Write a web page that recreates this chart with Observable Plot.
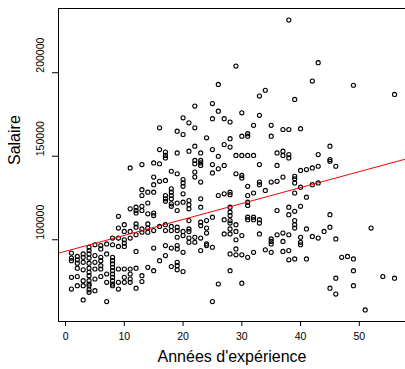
<!DOCTYPE html>
<html>
<head>
<meta charset="utf-8">
<script src="https://cdn.jsdelivr.net/npm/d3@7"></script>
<script src="https://cdn.jsdelivr.net/npm/@observablehq/plot@0.6"></script>
<style>
  html, body { margin: 0; padding: 0; background: #fff; }
  svg { font-family: "Liberation Sans", Arial, Helvetica, sans-serif; }
</style>
</head>
<body>
<div id="chart"></div>
<script>
// Salary values (thousands of dollars), grouped by years of experience
const yearsList = [1,2,3,4,5,6,7,8,9,10,11,12,13,14,15,16,17,18,19,20,21,22,23,24,25,26,27,28,29,30,31,32,33,34,35,36,37,38,39,40,41,42,43,44,45,46,47,48,49,51,52,54,56];
const salariesK = [
  [92, 89, 87.5, 77.5, 70.5],
  [90, 88, 86, 83, 78, 72.5],
  [91.5, 89.5, 86.5, 82, 75.5, 72.5, 64],
  [95.5, 93.5, 91.5, 89, 86, 83, 80.5, 78.5, 75.5, 73.5, 72.5, 70, 68.5],
  [97, 90.5, 86.5, 82.5, 76.5, 69.5],
  [96.5, 94.5, 89.5, 87.5, 84.5, 82.5, 78],
  [97.5, 91.5, 79.5, 74.5, 63],
  [101, 97, 89.5, 87.5, 85.5, 83.5, 81.5, 79.5, 77.5, 75.5, 73.5, 72.5],
  [114, 107, 101, 96, 82.5, 74.5, 70.5],
  [109, 105, 100, 98, 96, 82.5, 77.5, 74.5],
  [143, 118.5, 105, 101, 82.5, 79.5, 76.5, 74.5],
  [119.5, 117.5, 116, 109.5, 107.5, 103, 93, 83, 71],
  [145, 130, 126.5, 120, 117.5, 106.5, 104.5, 78.5, 75],
  [128.5, 122, 115.5, 109.5, 107, 104.5, 83.5],
  [146, 137.5, 133, 128.5, 116, 114.5, 105.5, 95, 81.5],
  [167, 154, 145.5, 135, 108, 87.5],
  [152.5, 150.5, 149, 135.5, 126.5, 124.5, 123, 109, 105.5, 96.5, 90.5],
  [141, 130.5, 128.5, 126.5, 124.5, 121.5, 120, 108, 105.5, 95, 84],
  [165, 152, 139.5, 122, 117.5, 107.5, 105.5, 101.5, 96.5, 94.5, 86.5, 84.5, 82],
  [173, 163, 136, 134, 132, 127.5, 122.5, 105, 102.5, 92.5, 81],
  [170, 153, 123.5, 121, 118.5, 111.5, 106.5, 105, 101, 98.5],
  [180, 167, 156, 147.5, 145.5, 140.5, 137.5, 101.5, 98.5],
  [152, 147.5, 146, 144.5, 134.5, 124.5, 119.5, 110.5, 108.5, 101, 93.5],
  [161, 111.5, 107, 104, 97.5, 96.5],
  [181.5, 172.5, 154, 145, 140, 113.5, 95.5, 63],
  [193, 177, 150, 142.5, 126.5, 73.5],
  [172.5, 157, 144.5, 127.5, 112, 103.5],
  [170.5, 160.5, 155.5, 128.5, 127, 119.5, 116.5, 114.5, 111.5, 110, 106.5, 103.5, 91.5, 81.5],
  [204, 150.5, 139.5, 109, 105, 100, 94.5, 91],
  [176, 162, 150.5, 138.5, 137, 102.5, 91, 74],
  [163.5, 162, 150.5, 132, 126.5, 122.5, 120.5, 113.5, 112, 89.5],
  [168.5, 150.5, 128, 113.5, 112, 92.5],
  [186, 174.5, 145, 134.5, 133, 112, 110, 103.5],
  [189.5, 129.5, 94],
  [168.5, 162, 134.5, 100.5, 99, 97.5, 92.5],
  [152, 144.5, 135, 117.5, 103],
  [166, 153, 150.5, 137.5, 104, 99, 93],
  [231.5, 166, 151, 149, 119.5, 115, 103, 93.5, 88],
  [184, 138, 136.5, 134, 128, 117, 111.5, 109, 107, 88.5],
  [166.5, 141.5, 131.5, 120, 101.5, 98.5, 97],
  [142, 125.5, 106.5, 88.5],
  [195, 143, 133, 102],
  [206, 151, 144, 134, 101],
  [105],
  [156, 148, 147, 115, 107.5, 71],
  [144, 100.5, 77, 67.5],
  [89.5],
  [90],
  [192.5, 88.5, 81.5, 72.5],
  [58],
  [107],
  [78],
  [187, 77]
];
const xTicks = [0, 10, 20, 30, 40, 50];
const yTicks = [100000, 150000, 200000];
const xTitle = "Années d'expérience";
const yTitle = "Salaire";

// flat table
const data = [];
yearsList.forEach((yr, i) => salariesK[i].forEach(s => data.push({yrs: yr, salary: s * 1000})));

// least-squares fit (abline(lm(salary ~ yrs)))
const mx = d3.mean(data, d => d.yrs), my = d3.mean(data, d => d.salary);
const slope = d3.sum(data, d => (d.yrs - mx) * (d.salary - my)) / d3.sum(data, d => (d.yrs - mx) ** 2);
const intercept = my - slope * mx;

// R-like 4% padding on the axes
const xr = d3.extent(data, d => d.yrs), yr = d3.extent(data, d => d.salary);
const xPad = (xr[1] - xr[0]) * 0.04, yPad = (yr[1] - yr[0]) * 0.04;
const xLo = xr[0] - xPad, xHi = xr[1] + xPad;
const yDomain = [yr[0] - yPad, yr[1] + yPad];
// The picture is cropped on the right: visible x range ends a little before the box edge
const W = 405, H = 369, mL = 58, mT = 8, mB = 48;
const boxRight = 407;
const xVisibleHi = xLo + (xHi - xLo) * (W - mL) / (boxRight - mL);
const lineData = [xLo, xVisibleHi].map(x => ({x, y: intercept + slope * x}));

const font = 10.5;
const chart = Plot.plot({
  width: W, height: H,
  marginLeft: mL, marginRight: 0, marginTop: mT, marginBottom: mB,
  x: {domain: [xLo, xVisibleHi]},
  y: {domain: yDomain},
  style: {fontFamily: '"Liberation Sans", Arial, Helvetica, sans-serif', background: "#fff", overflow: "visible"},
  marks: [
    Plot.dot(data, {x: "yrs", y: "salary", r: 2.05, stroke: "black", strokeWidth: 1.1, fill: "none"}),
    Plot.line(lineData, {x: "x", y: "y", stroke: "red", strokeWidth: 1}),
    // box: left, top, bottom (right edge lies outside the cropped picture)
    Plot.ruleX([xLo], {stroke: "black", strokeWidth: 1}),
    Plot.ruleY(yDomain, {stroke: "black", strokeWidth: 1}),
    // ticks
    Plot.axisX(xTicks, {tickSize: 5, tickFormat: () => "", label: null, stroke: "black", strokeWidth: 1}),
    Plot.axisY(yTicks, {tickSize: 6, tickFormat: () => "", label: null, stroke: "black", strokeWidth: 1}),
    // tick labels
    Plot.text(xTicks, {x: d => d, frameAnchor: "bottom", dy: 18, text: d => String(d), fontSize: font, fill: "black"}),
    Plot.text(yTicks, {y: d => d, frameAnchor: "left", dx: -18, rotate: -90, text: d => String(d), fontSize: font, fill: "black"}),
    // titles
    Plot.text([xTitle], {frameAnchor: "bottom", dy: 40, text: d => d, fontSize: 16, fill: "black"}),
    Plot.text([yTitle], {frameAnchor: "left", dx: -44, rotate: -90, text: d => d, fontSize: 16, fill: "black"})
  ]
});
document.getElementById("chart").appendChild(chart);
</script>
</body>
</html>
